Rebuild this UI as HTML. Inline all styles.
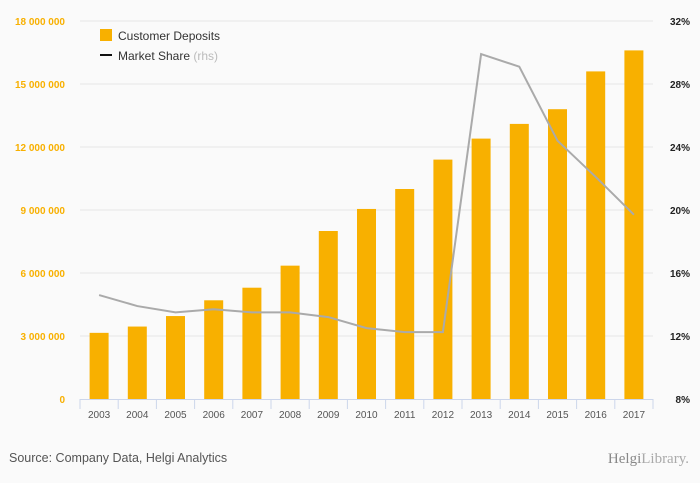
<!DOCTYPE html>
<html><head><meta charset="utf-8"><style>
body{margin:0;background:#fafafa;font-family:"Liberation Sans",sans-serif}
svg{display:block}
</style></head><body>
<svg width="700" height="483" id="c">
<rect width="700" height="483" fill="#fafafa"/>
<g id="grid"></g><g id="bars"></g><g id="line"></g><g id="axes"></g>
<g>
<rect x="100" y="29" width="12" height="12" fill="#f8b000"/>
<text x="118" y="40" font-size="12" fill="#333">Customer Deposits</text>
<rect x="100" y="54" width="12" height="2" fill="#111"/>
<text x="118" y="60" font-size="12" fill="#333">Market Share <tspan fill="#bbb">(rhs)</tspan></text>
</g>
<text x="9" y="462" font-size="12.5" fill="#555">Source: Company Data, Helgi Analytics</text>
<text x="689" y="463" font-size="15" fill="#aaa" text-anchor="end" font-family="Liberation Serif,serif"><tspan fill="#888">Helgi</tspan>Library.</text>
</svg>
<script>
const years=["2003","2004","2005","2006","2007","2008","2009","2010","2011","2012","2013","2014","2015","2016","2017"];
const deposits=[3150000,3450000,3950000,4700000,5300000,6350000,8000000,9050000,10000000,11400000,12400000,13100000,13800000,15600000,16600000];
const share=[14.6,13.9,13.5,13.7,13.5,13.5,13.2,12.5,12.25,12.25,29.9,29.1,24.4,22.1,19.7];
const leftTicks=[0,3000000,6000000,9000000,12000000,15000000,18000000];
const rightTicks=[8,12,16,20,24,28,32];
const NS="http://www.w3.org/2000/svg";
const x0=80,x1=653,yb=399,yt=21,bw=(x1-x0)/years.length;
const yL=v=>yb-(v/18000000)*(yb-yt);
const yR=v=>yb-((v-8)/24)*(yb-yt);
const xc=i=>x0+bw*(i+0.5);
function mk(t,a,p){const e=document.createElementNS(NS,t);for(const k in a)e.setAttribute(k,a[k]);p.appendChild(e);return e;}
const G=document.getElementById('grid'),B=document.getElementById('bars'),L=document.getElementById('line'),A=document.getElementById('axes');
leftTicks.forEach((v,i)=>{
 if(i>0){const g=mk('line',{x1:x0,x2:x1,y1:yL(v),y2:yL(v),stroke:'#e6e6e6'},G);
 
 }
 const t=mk('text',{x:65,y:yL(v)+4,'text-anchor':'end','font-size':10,fill:'#f8b000','font-weight':'bold'},A);
 t.textContent=v.toLocaleString('en-US').replace(/,/g,' ');
 
 
});
rightTicks.forEach(v=>{
 const t=mk('text',{x:690,y:yR(v)+4,'text-anchor':'end','font-size':10,fill:'#222','font-weight':'bold'},A);
 t.textContent=v+'%';
 
 
});
const ax=mk('line',{x1:x0,x2:x1,y1:yb+0.5,y2:yb+0.5,stroke:'#ccd6eb'},A);


for(let i=0;i<=years.length;i++){const tk=mk('line',{x1:x0+bw*i,x2:x0+bw*i,y1:yb,y2:yb+10,stroke:'#ccd6eb'},A);
 
 }
years.forEach((y,i)=>{
 const r=mk('rect',{x:xc(i)-9.5,y:yL(deposits[i]),width:19,height:yb-yL(deposits[i]),fill:'#f8b000'},B);
 
 
 const t=mk('text',{x:xc(i),y:418,'text-anchor':'middle','font-size':10,fill:'#555'},A);
 t.textContent=y;
 
 
});
const p=mk('polyline',{points:share.map((v,i)=>xc(i)+','+yR(v)).join(' '),fill:'none',stroke:'#aaa','stroke-width':2},L);


</script>
</body></html>
